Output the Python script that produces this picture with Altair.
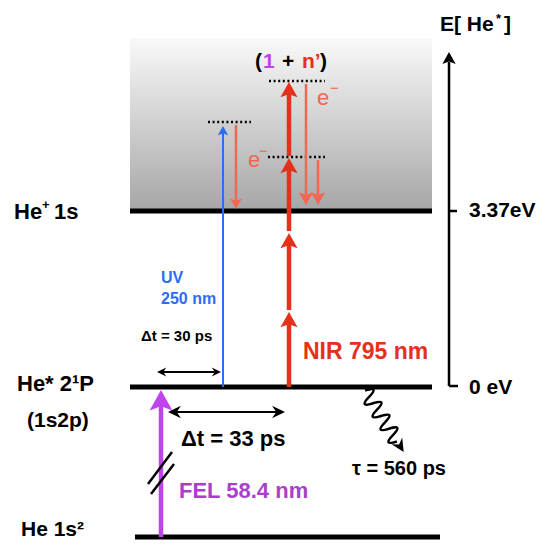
import altair as alt
import pandas as pd

# ---------------- values (diagram units = image px) ----------------
RED = "#e5311b"
SALMON = "#f3664f"
BLUE = "#2d6cf4"
PURPLE = "#c043ee"
PURPLE_TXT = "#a93fcb"
BLACK = "#000000"

# energy levels
level_y = [211, 387, 537]
level_x1 = [130, 130, 135]
level_x2 = [432, 432, 440]

# continuum (gray gradient box)
cont_x, cont_x2, cont_y, cont_y2 = [130], [432], [38], [209]

# thick / thin straight lines: x, y, x2, y2, colour, width
seg_x = [289, 289, 289, 289, 223, 236, 306, 318, 161, 160, 172, 449, 449, 449, 148, 151]
seg_y = [387, 310, 231, 156, 387, 125, 84, 160, 537, 372, 412, 386, 211, 386, 484, 494]
seg_x2 = [289, 289, 289, 289, 223, 236, 306, 318, 161, 218, 281, 449, 457, 458, 172, 174]
seg_y2 = [320, 241, 166, 90, 132, 202, 196, 196, 405, 372, 412, 62, 211, 386, 452, 464]
seg_color = [RED] * 4 + [BLUE, SALMON, SALMON, SALMON, PURPLE] + [BLACK] * 7
seg_width = [4.5] * 4 + [2, 2.5, 2.5, 2.5, 4.5, 2, 2.2, 2.5, 2.5, 2.5, 2.5, 2.5]

# dotted virtual levels
dot_x = [269, 268, 208]
dot_x2 = [325, 325, 251]
dot_y = [81, 157, 122]

# filled arrow heads: centre x, centre y, size, angle, colour
head_x = [289, 289, 289, 289, 223, 236, 306, 318, 161, 449]
head_y = [321, 242, 167, 91, 131.5, 203, 197.5, 197.5, 402, 59]
head_size = [324, 324, 324, 324, 121, 144, 225, 225, 576, 196]
head_angle = [0, 0, 0, 0, 0, 180, 180, 180, 0, 0]
head_color = [RED] * 4 + [BLUE, SALMON, SALMON, SALMON, PURPLE, BLACK]

# black double-arrow heads and the decay arrow head
bhead_x = [162, 216, 175, 278, 400]
bhead_y = [372, 372, 412, 412, 446]
bhead_size = [100, 100, 196, 196, 196]
bhead_angle = [270, 90, 270, 90, 148]

# decay squiggle
wave_x, wave_y, wave_size, wave_angle = [381], [416], [3600], [328]

# texts (bold): text, left x, centre y, font size, colour
txt = ["He", "+", "1s", "He* 2¹P", "(1s2p)", "He 1s²",
       "E[ He", "*", "]", "3.37eV", "0 eV",
       "UV", "250 nm", "Δt = 30 ps", "NIR 795 nm", "Δt = 33 ps",
       "FEL 58.4 nm", "τ = 560 ps", "(", "1", "+", "n’", ")"]
txt_x = [14, 42, 54, 17, 27, 21,
         440, 496, 504, 469, 469,
         161, 161, 141, 303, 181,
         179, 352, 255, 263, 282, 302, 320]
txt_y = [212, 205, 212, 384, 421, 530,
         25, 19, 25, 211, 388,
         278, 299, 336, 352, 439,
         491, 469, 62, 62, 62, 62, 62]
txt_size = [22, 13, 22, 22, 21, 21,
            21, 13, 21, 21, 21,
            16, 16, 15, 23, 22,
            22, 20, 21, 21, 21, 21, 21]
txt_color = [BLACK] * 11 + [BLUE, BLUE, BLACK, RED, BLACK, PURPLE_TXT, BLACK,
                            BLACK, PURPLE, BLACK, RED, BLACK]

# electron labels (regular weight)
el_txt = ["e", "−", "e", "−"]
el_x = [317, 330, 248, 259]
el_y = [98, 88, 160, 151]
el_size = [22, 15, 22, 15]

# ---------------- chart ----------------
W, H = 533, 532
xs = alt.Scale(domain=[8, 8 + W], nice=False, zero=False)
ys = alt.Scale(domain=[8, 8 + H], nice=False, zero=False, reverse=True)


def X(f):
    return alt.X(f, type="quantitative", scale=xs, axis=None)


def Y(f):
    return alt.Y(f, type="quantitative", scale=ys, axis=None)


grad = alt.Gradient(
    gradient="linear",
    stops=[alt.GradientStop(color="#f9f9f9", offset=0),
           alt.GradientStop(color="#a7a7a7", offset=1)],
    x1=0, x2=0, y1=0, y2=1,
)

cont = alt.Chart(pd.DataFrame({"x": cont_x, "x2": cont_x2, "y": cont_y, "y2": cont_y2})).mark_rect(
    color=grad).encode(x=X("x"), x2="x2", y=Y("y"), y2="y2")

levels = alt.Chart(pd.DataFrame({"x": level_x1, "x2": level_x2, "y": level_y})).mark_rule(
    color=BLACK, strokeWidth=5).encode(x=X("x"), x2="x2", y=Y("y"))

dots = alt.Chart(pd.DataFrame({"x": dot_x, "x2": dot_x2, "y": dot_y})).mark_rule(
    color=BLACK, strokeWidth=2.5, strokeDash=[2, 2.6]).encode(x=X("x"), x2="x2", y=Y("y"))

segs = alt.Chart(pd.DataFrame({"x": seg_x, "y": seg_y, "x2": seg_x2, "y2": seg_y2,
                               "c": seg_color, "w": seg_width})).mark_rule().encode(
    x=X("x"), y=Y("y"), x2="x2", y2="y2",
    color=alt.Color("c:N", scale=None),
    strokeWidth=alt.StrokeWidth("w:Q", scale=None))

HEAD = "M0,-1L0.95,0.7L0,0.35L-0.95,0.7Z"
heads = alt.Chart(pd.DataFrame({"x": head_x, "y": head_y, "s": head_size,
                                "a": head_angle, "c": head_color})).mark_point(
    shape=HEAD, filled=True, opacity=1, strokeWidth=0).encode(
    x=X("x"), y=Y("y"),
    size=alt.Size("s:Q", scale=None),
    angle=alt.Angle("a:Q", scale=None),
    color=alt.Color("c:N", scale=None))

BHEAD = "M0,-1L0.9,0.85L0,0.25L-0.9,0.85Z"
bheads = alt.Chart(pd.DataFrame({"x": bhead_x, "y": bhead_y, "s": bhead_size,
                                 "a": bhead_angle})).mark_point(
    shape=BHEAD, filled=True, opacity=1, color=BLACK, strokeWidth=0).encode(
    x=X("x"), y=Y("y"),
    size=alt.Size("s:Q", scale=None),
    angle=alt.Angle("a:Q", scale=None))

WAVE = ("M0,-1Q0.5,-0.875 0,-0.75Q-0.5,-0.625 0,-0.5Q0.5,-0.375 0,-0.25Q-0.5,-0.125 0,0"
        "Q0.5,0.125 0,0.25Q-0.5,0.375 0,0.5Q0.5,0.625 0,0.75Q-0.5,0.875 0,1")
wave = alt.Chart(pd.DataFrame({"x": wave_x, "y": wave_y, "s": wave_size,
                               "a": wave_angle})).mark_point(
    shape=WAVE, filled=False, opacity=1, color=BLACK, strokeWidth=2.5).encode(
    x=X("x"), y=Y("y"),
    size=alt.Size("s:Q", scale=None),
    angle=alt.Angle("a:Q", scale=None))

FONT = "Liberation Sans"
texts = alt.Chart(pd.DataFrame({"t": txt, "x": txt_x, "y": txt_y, "s": txt_size,
                                "c": txt_color})).mark_text(
    align="left", baseline="middle", font=FONT, fontWeight="bold").encode(
    x=X("x"), y=Y("y"), text="t:N",
    size=alt.Size("s:Q", scale=None),
    color=alt.Color("c:N", scale=None))

etexts = alt.Chart(pd.DataFrame({"t": el_txt, "x": el_x, "y": el_y, "s": el_size})).mark_text(
    align="left", baseline="middle", font=FONT, color=SALMON).encode(
    x=X("x"), y=Y("y"), text="t:N",
    size=alt.Size("s:Q", scale=None))

chart = alt.layer(cont, levels, dots, segs, heads, bheads, wave, texts, etexts).properties(
    width=W, height=H, padding=0, autosize="none"
).configure_view(stroke=None)

chart.save("out.html", embed_options={"renderer": "svg", "actions": False})
